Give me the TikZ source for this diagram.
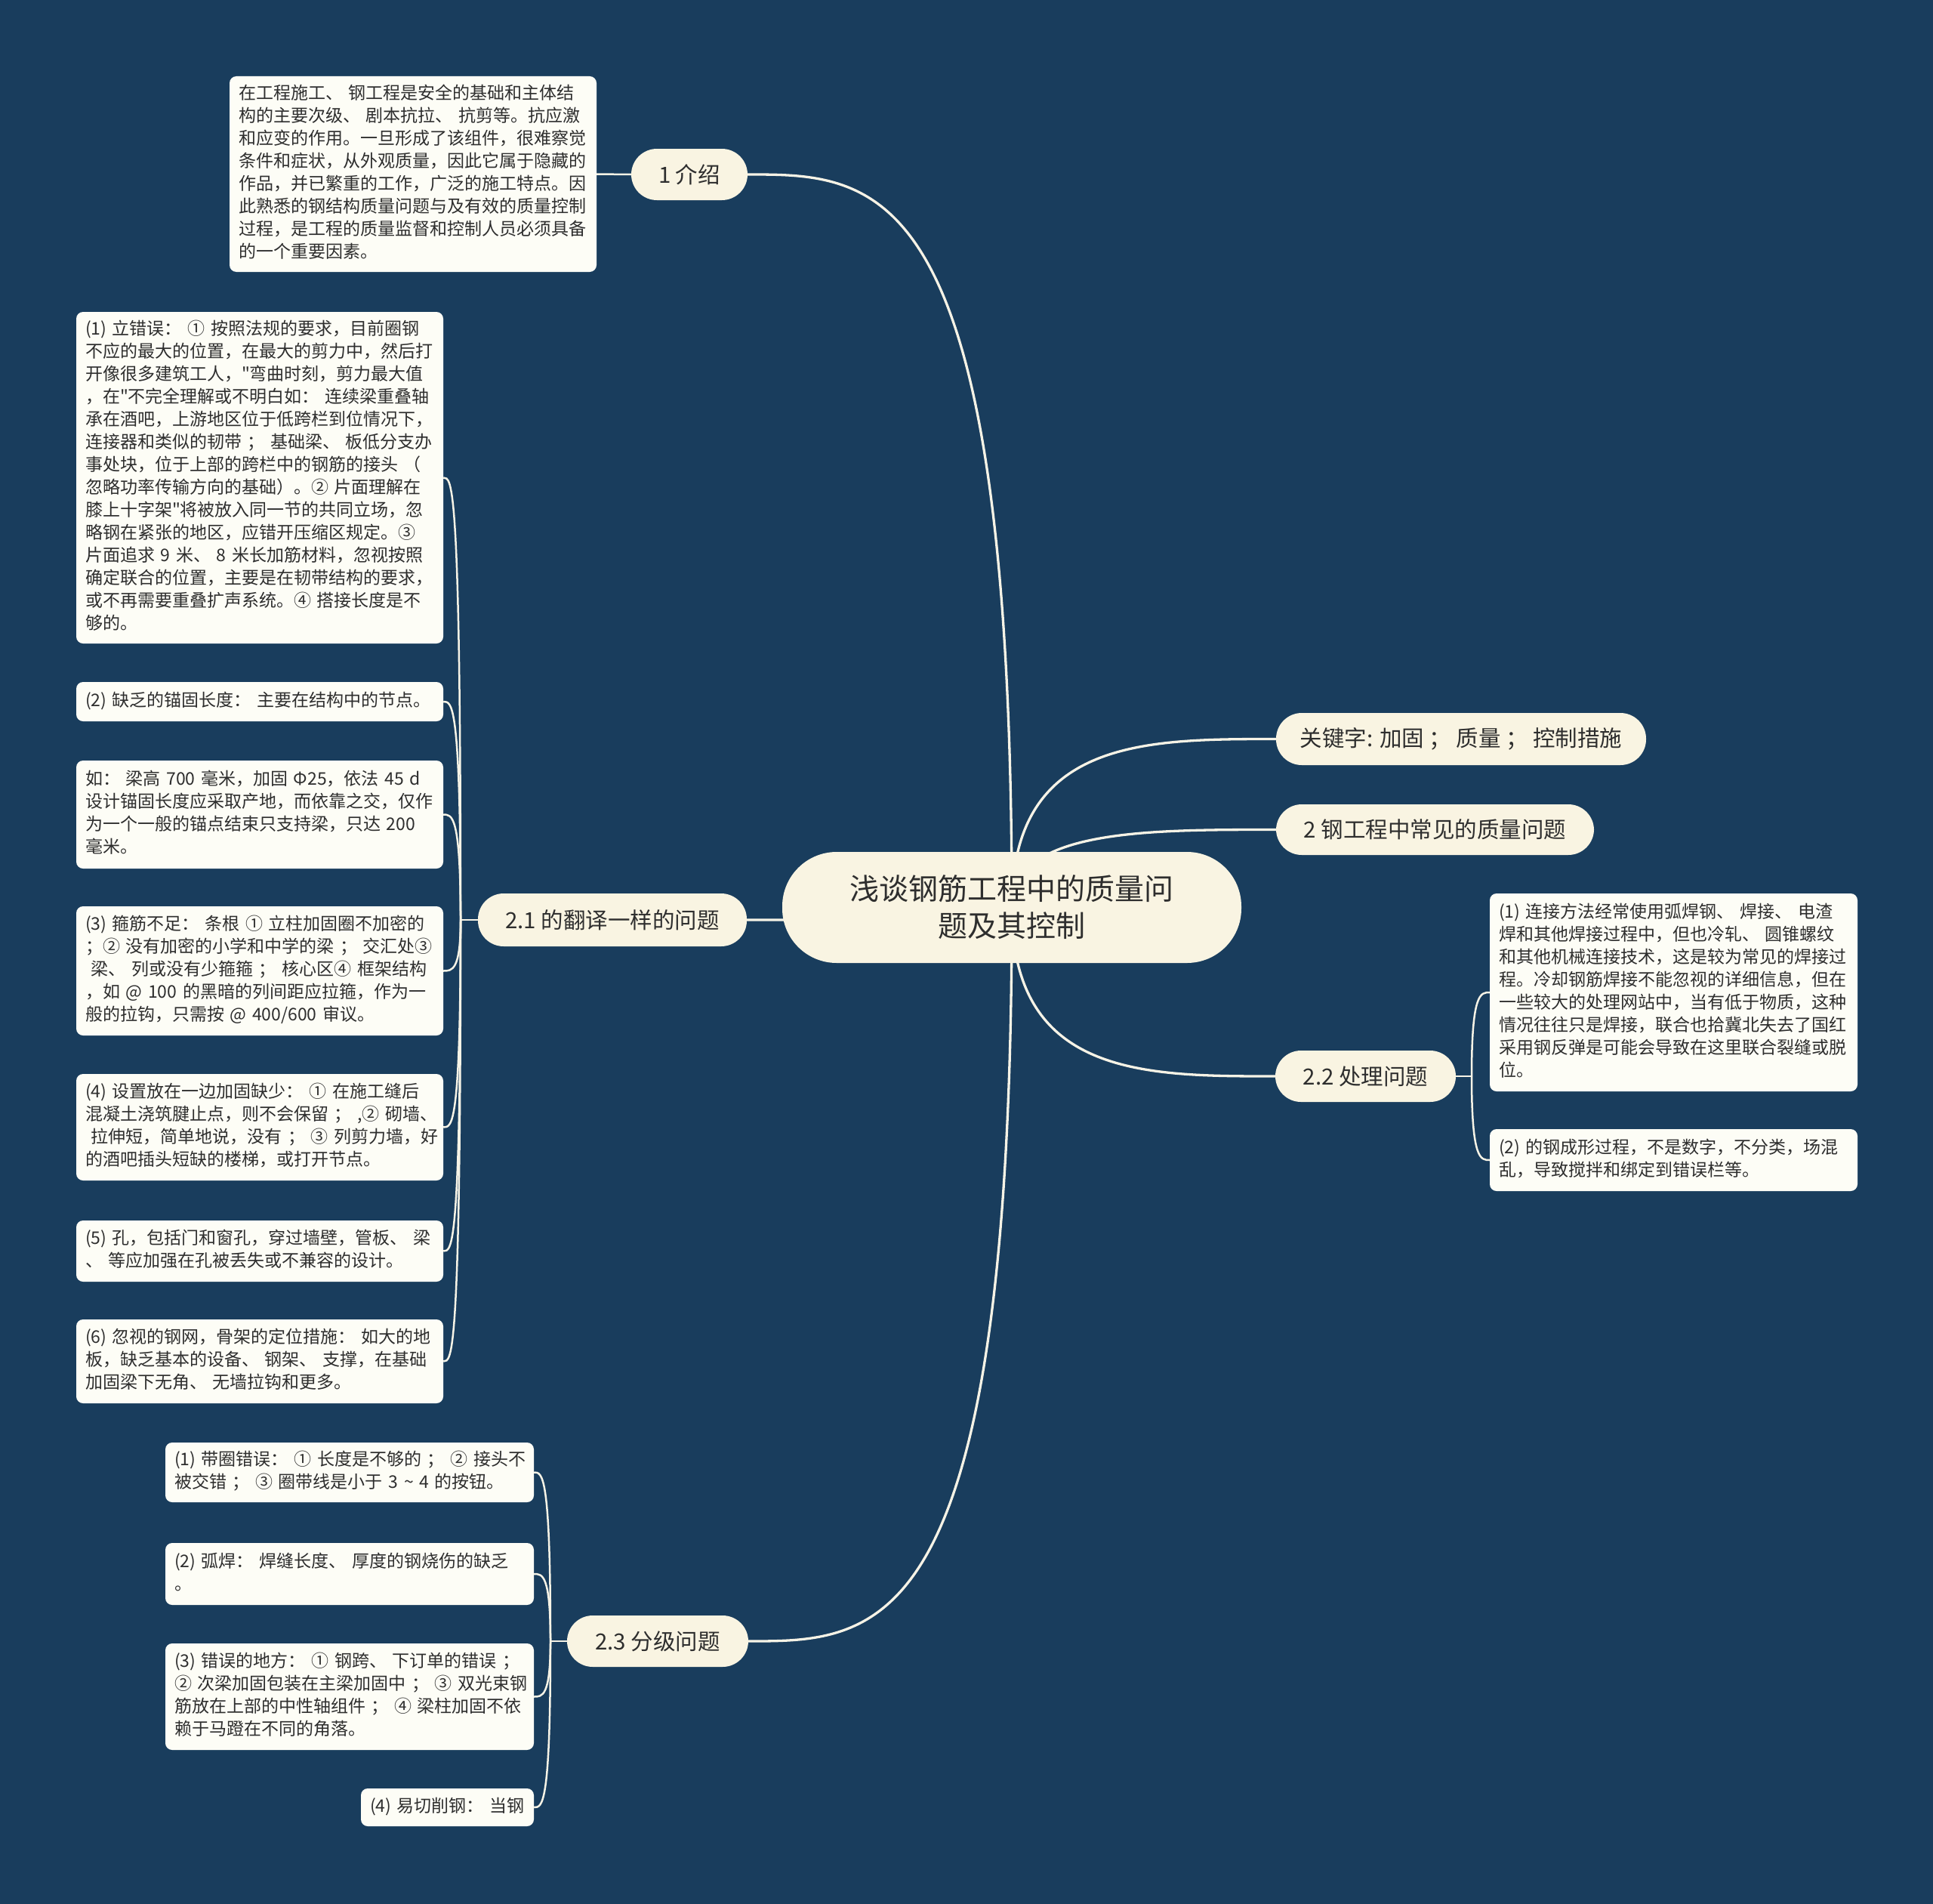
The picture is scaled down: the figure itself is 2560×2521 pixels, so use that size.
\documentclass[tikz,border=0pt]{standalone}
\usepackage{fontspec}
\setmainfont{Noto Sans CJK SC}
\newfontfamily\cjk{Noto Sans CJK SC}
\usetikzlibrary{calc}
\definecolor{bgc}{HTML}{193D5D}
\definecolor{topicfill}{HTML}{F9F4E2}
\definecolor{boxfill}{HTML}{FDFDF6}
\definecolor{linec}{HTML}{F6F3E6}
\definecolor{txt}{HTML}{2E2E2E}
\newcommand\boxlines[1]{\begin{tabular}{@{}l@{}}#1\end{tabular}}
\pgfdeclarelayer{bg}
\pgfsetlayers{bg,main}
\begin{document}
\begin{tikzpicture}[x=1pt,y=-1pt,
  topic/.style={fill=topicfill, text=txt, font=\cjk\fontsize{29.5}{36}\selectfont, rounded corners=34pt, inner sep=0pt, minimum height=68pt},
  rootnode/.style={fill=topicfill, text=txt, font=\cjk\fontsize{39}{49}\selectfont, rounded corners=72pt, inner sep=0pt, align=center, minimum width=608pt, minimum height=147pt},
  detail/.style={fill=boxfill, text=txt, font=\cjk\fontsize{23}{30}\selectfont, rounded corners=9pt, text width=462pt, align=left, inner xsep=12pt, inner ysep=0pt},
  mainline/.style={draw=linec, line width=3.3pt},
  subline/.style={draw=linec, line width=2.5pt},
]
\useasboundingbox (0,0) rectangle (2560,2521);

% ---------- main nodes ----------
\node[rootnode] (root) at (1340,1201.5) {浅谈钢筋工程中的质量问\\题及其控制};
\node[topic, minimum width=154pt] (n1) at (913,231) {1 介绍};
\node[topic, minimum width=490pt, minimum height=69pt] (kw) at (1935,978.5) {关键字: 加固 ； 质量 ； 控制措施};
\node[topic, minimum width=421pt, minimum height=67pt] (n2) at (1900.5,1098.5) {2 钢工程中常见的质量问题};
\node[topic, minimum width=356pt, minimum height=70pt] (n21) at (811,1218) {2.1 的翻译一样的问题};
\node[topic, minimum width=239pt] (n22) at (1808.5,1425) {2.2 处理问题};
\node[topic, minimum width=240pt] (n23) at (871,2173) {2.3 分级问题};

% ---------- intro ----------
\node[detail, minimum height=259pt] (intro) at (547,230.5) {\boxlines{在工程施工、 钢工程是安全的基础和主体结\\构的主要次级、 剧本抗拉、 抗剪等。抗应激\\和应变的作用。一旦形成了该组件，很难察觉\\条件和症状，从外观质量，因此它属于隐藏的\\作品，并已繁重的工作，广泛的施工特点。因\\此熟悉的钢结构质量问题与及有效的质量控制\\过程，是工程的质量监督和控制人员必须具备\\的一个重要因素。}};

% ---------- 2.1 children ----------
\node[detail, minimum height=439pt] (L1) at (344,632.5) {\boxlines{(1) 立错误： ① 按照法规的要求，目前圈钢\\不应的最大的位置，在最大的剪力中，然后打\\开像很多建筑工人，"弯曲时刻，剪力最大值\\，在"不完全理解或不明白如： 连续梁重叠轴\\承在酒吧，上游地区位于低跨栏到位情况下，\\连接器和类似的韧带 ； 基础梁、 板低分支办\\事处块，位于上部的跨栏中的钢筋的接头 （\\忽略功率传输方向的基础）。② 片面理解在\\膝上十字架"将被放入同一节的共同立场，忽\\略钢在紧张的地区，应错开压缩区规定。③\\片面追求 9 米、 8 米长加筋材料，忽视按照\\确定联合的位置，主要是在韧带结构的要求，\\或不再需要重叠扩声系统。④ 搭接长度是不\\够的。}};
\node[detail, minimum height=52pt] (L2) at (344,929) {\boxlines{(2) 缺乏的锚固长度： 主要在结构中的节点。}};
\node[detail, minimum height=143pt] (L3) at (344,1078.5) {\boxlines{如： 梁高 700 毫米，加固 Φ25，依法 45 d\\设计锚固长度应采取产地，而依靠之交，仅作\\为一个一般的锚点结束只支持梁，只达 200\\毫米。}};
\node[detail, minimum height=171pt] (L4) at (344,1285.5) {\boxlines{(3) 箍筋不足： 条根 ① 立柱加固圈不加密的\\；② 没有加密的小学和中学的梁 ； 交汇处③\\~梁、 列或没有少箍箍 ； 核心区④ 框架结构\\，如 @ 100 的黑暗的列间距应拉箍，作为一\\般的拉钩，只需按 @ 400/600 审议。}};
\node[detail, minimum height=141pt] (L5) at (344,1492.5) {\boxlines{(4) 设置放在一边加固缺少： ① 在施工缝后\\混凝土浇筑腱止点，则不会保留 ； ,② 砌墙、\\~拉伸短，简单地说，没有 ； ③ 列剪力墙，好\\的酒吧插头短缺的楼梯，或打开节点。}};
\node[detail, minimum height=81pt] (L6) at (344,1656.5) {\boxlines{(5) 孔，包括门和窗孔，穿过墙壁，管板、 梁\\、 等应加强在孔被丢失或不兼容的设计。}};
\node[detail, minimum height=111pt] (L7) at (344,1802.5) {\boxlines{(6) 忽视的钢网，骨架的定位措施： 如大的地\\板，缺乏基本的设备、 钢架、 支撑，在基础\\加固梁下无角、 无墙拉钩和更多。}};

% ---------- 2.2 children ----------
\node[detail, text width=463pt, minimum height=262pt] (R1) at (2216.5,1314) {\boxlines{(1) 连接方法经常使用弧焊钢、 焊接、 电渣\\焊和其他焊接过程中，但也冷轧、 圆锥螺纹\\和其他机械连接技术，这是较为常见的焊接过\\程。冷却钢筋焊接不能忽视的详细信息，但在\\一些较大的处理网站中，当有低于物质，这种\\情况往往只是焊接，联合也拾冀北失去了国红\\采用钢反弹是可能会导致在这里联合裂缝或脱\\位。}};
\node[detail, text width=463pt, minimum height=82pt] (R2) at (2216.5,1536) {\boxlines{(2) 的钢成形过程，不是数字，不分类，场混\\乱，导致搅拌和绑定到错误栏等。}};

% ---------- 2.3 children ----------
\node[detail, text width=464pt, minimum height=79pt] (B1) at (463,1949.5) {\boxlines{(1) 带圈错误： ① 长度是不够的 ； ② 接头不\\被交错 ； ③ 圈带线是小于 3 \textasciitilde{} 4 的按钮。}};
\node[detail, text width=464pt, minimum height=82pt] (B2) at (463,2084) {\boxlines{(2) 弧焊： 焊缝长度、 厚度的钢烧伤的缺乏\\。}};
\node[detail, text width=464pt, minimum height=141pt] (B3) at (463,2246.5) {\boxlines{(3) 错误的地方： ① 钢跨、 下订单的错误 ；\\② 次梁加固包装在主梁加固中 ； ③ 双光束钢\\筋放在上部的中性轴组件 ； ④ 梁柱加固不依\\赖于马蹬在不同的角落。}};
\node[detail, text width=205pt, minimum height=50pt] (B4) at (592.5,2393) {\boxlines{(4) 易切削钢： 当钢}};

% ---------- junctions ----------
\coordinate (j21) at (610,1218);
\coordinate (j22) at (1949,1425);
\coordinate (j23) at (729,2173);

% ---------- connectors ----------
\begin{pgfonlayer}{bg}
\fill[bgc] (0,0) rectangle (2560,2521);
\foreach \n in {n1,n21,n23} {
  \draw[mainline] (root.center) .. controls (root.center |- \n.east) and ($(root.center |- \n.east)!0.5!(\n.east)$) .. (\n.east);
}
\foreach \n in {kw,n2,n22} {
  \draw[mainline] (root.center) .. controls (root.center |- \n.west) and ($(root.center |- \n.west)!0.5!(\n.west)$) .. (\n.west);
}
\draw[subline] (n1.west) -- (intro.east);
\draw[subline] (n21.west) -- (j21);
\draw[subline] (n22.east) -- (j22);
\draw[subline] (n23.west) -- (j23);
\foreach \n in {L1,L2,L3,L4,L5,L6,L7} {
  \draw[subline] (j21) .. controls (j21 |- \n.east) and ($(j21 |- \n.east)!0.5!(\n.east)$) .. (\n.east);
}
\foreach \n in {R1,R2} {
  \draw[subline] (j22) .. controls (j22 |- \n.west) and ($(j22 |- \n.west)!0.5!(\n.west)$) .. (\n.west);
}
\foreach \n in {B1,B2,B3,B4} {
  \draw[subline] (j23) .. controls (j23 |- \n.east) and ($(j23 |- \n.east)!0.5!(\n.east)$) .. (\n.east);
}
\end{pgfonlayer}
\end{tikzpicture}
\end{document}
